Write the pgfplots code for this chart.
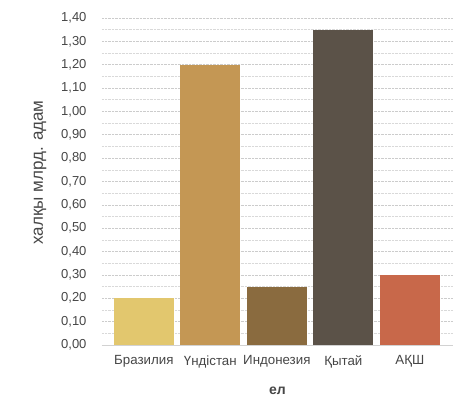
\documentclass[border=0pt]{standalone}
\usepackage{pgfplots}
\pgfplotsset{compat=1.18}
\usepackage{fontspec}
\setmainfont{Liberation Sans}
\definecolor{cA}{RGB}{226,199,110}
\definecolor{cB}{RGB}{196,151,84}
\definecolor{cC}{RGB}{138,107,63}
\definecolor{cD}{RGB}{91,82,72}
\definecolor{cE}{RGB}{200,104,74}
\definecolor{txt}{RGB}{70,70,70}
\begin{document}
\begin{tikzpicture}
\useasboundingbox (-102pt,-54pt) rectangle (362pt,345pt);
\begin{axis}[
  at={(0pt,0pt)}, anchor=south west,
  scale only axis, width=351pt, height=327pt,
  xmin=-0.63, xmax=4.65, ymin=0, ymax=1.4,
  xtick={0,1,2,3,4},
  xticklabels={Бразилия,Үндістан,Индонезия,Қытай,АҚШ},
  ytick={0,0.1,...,1.41},
  minor y tick num=1,
  ymajorgrids, yminorgrids,
  major grid style={gray!40, densely dotted, line width=0.6pt},
  minor grid style={gray!30, densely dotted, line width=0.6pt},
  major tick length=0pt, minor tick length=0pt,
  axis lines*=left,
  x axis line style={gray!35, line width=0.8pt},
  y axis line style={draw=none},
  /pgf/number format/assume math mode=true,
  yticklabel style={/pgf/number format/fixed, /pgf/number format/fixed zerofill, /pgf/number format/precision=2, /pgf/number format/use comma, font=\fontsize{13}{15}\selectfont, text=txt, xshift=-12pt},
  xticklabel style={font=\fontsize{13.3}{15}\selectfont, text=txt, yshift=-7pt},
  ylabel={халқы млрд. адам},
  ylabel style={font=\fontsize{17}{19}\selectfont, text=txt, at={(axis description cs:0,0.5)}, anchor=center, yshift=62pt, xshift=9pt},
  xlabel={\textbf{ел}},
  xlabel style={font=\fontsize{14}{16}\selectfont, text=txt, at={(axis description cs:0.5,0)}, yshift=-46pt, anchor=center},
  ybar, bar width=60pt, bar shift=0pt,
]
\addplot[fill=cA, draw=none] coordinates {(0,0.20)};
\addplot[fill=cB, draw=none] coordinates {(1,1.20)};
\addplot[fill=cC, draw=none] coordinates {(2,0.25)};
\addplot[fill=cD, draw=none] coordinates {(3,1.35)};
\addplot[fill=cE, draw=none] coordinates {(4,0.30)};
\end{axis}
\end{tikzpicture}
\end{document}
